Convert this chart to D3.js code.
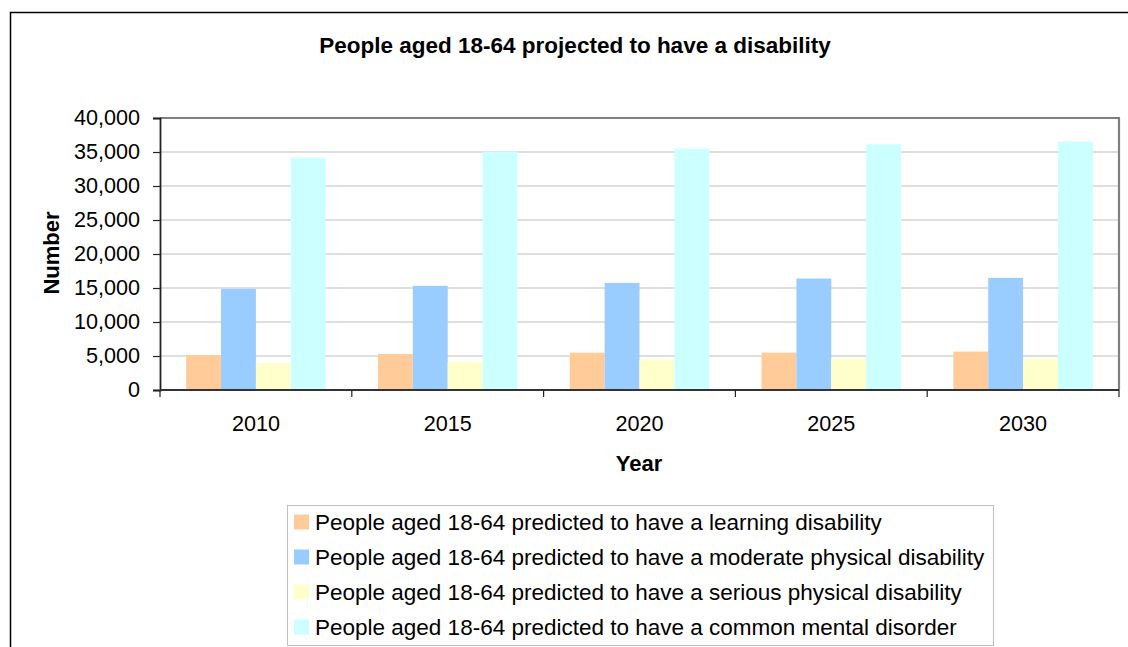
<!DOCTYPE html>
<html>
<head>
<meta charset="utf-8">
<script src="https://cdn.jsdelivr.net/npm/d3@7"></script>
<style>
  html, body { margin: 0; padding: 0; background: #fff; }
  svg { display: block; font-family: Arial, "Liberation Sans", sans-serif; }
</style>
</head>
<body>
<svg id="chart" width="1128" height="647"></svg>
<script>
// Projected numbers of people aged 18-64 with a disability, by year
const years = ["2010", "2015", "2020", "2025", "2030"];
const seriesNames = [
  "People aged 18-64 predicted to have a learning disability",
  "People aged 18-64 predicted to have a moderate physical disability",
  "People aged 18-64 predicted to have a serious physical disability",
  "People aged 18-64 predicted to have a common mental disorder"
];
const learning = [5150, 5300, 5480, 5490, 5650];
const moderatePhysical = [14870, 15320, 15750, 16390, 16490];
const seriousPhysical = [3970, 4120, 4460, 4610, 4610];
const commonMental = [34170, 35050, 35490, 36130, 36520];
const seriesColors = ["#ffcc99", "#99ccff", "#ffffcc", "#ccffff"];
const yTicks = [0, 5000, 10000, 15000, 20000, 25000, 30000, 35000, 40000];

const seriesValues = [learning, moderatePhysical, seriousPhysical, commonMental];

const svg = d3.select("#chart");
const plot = { left: 160, right: 1119, top: 118, bottom: 390 };

// Outer chart frame (open to the right and bottom)
svg.append("path")
  .attr("d", "M10.5,647 L10.5,12.5 L1128,12.5")
  .attr("fill", "none").attr("stroke", "#000").attr("stroke-width", 1.5);

// Title
svg.append("text")
  .attr("x", 575).attr("y", 45)
  .attr("text-anchor", "middle").attr("dominant-baseline", "central")
  .attr("font-size", 22.5).attr("font-weight", "bold")
  .text("People aged 18-64 projected to have a disability");

// Category bands, and the four bars inside each band (gap of 1.5 bar widths)
const x0 = d3.scaleBand().domain(years).range([plot.left, plot.right]).paddingInner(0).paddingOuter(0);
const x1 = d3.scaleBand().domain(d3.range(seriesNames.length))
  .range([0, x0.bandwidth()]).paddingInner(0).paddingOuter(0.75);
const y = d3.scaleLinear().domain([0, 40000]).range([plot.bottom, plot.top]);

// Gridlines
svg.append("g").selectAll("line")
  .data(yTicks.filter(t => t > 0 && t < 40000))
  .join("line")
  .attr("x1", plot.left).attr("x2", plot.right)
  .attr("y1", d => y(d)).attr("y2", d => y(d))
  .attr("stroke", "#c0c0c0").attr("stroke-width", 1.2);

// Plot area border (top and right)
svg.append("path")
  .attr("d", `M${plot.left},${y(40000)} L${plot.right},${y(40000)} L${plot.right},${plot.bottom}`)
  .attr("fill", "none").attr("stroke", "#808080").attr("stroke-width", 2.2);

// Bars
const groups = svg.append("g").selectAll("g")
  .data(years)
  .join("g")
  .attr("transform", d => `translate(${x0(d)},0)`);

groups.selectAll("rect")
  .data((yr, i) => seriesValues.map((vals, s) => ({ s, v: vals[i] })))
  .join("rect")
  .attr("x", d => x1(d.s))
  .attr("width", x1.bandwidth())
  .attr("y", d => y(d.v))
  .attr("height", d => y(0) - y(d.v))
  .attr("fill", d => seriesColors[d.s]);

// Y axis
const yAxis = d3.axisLeft(y).tickValues(yTicks).tickSize(7).tickPadding(13)
  .tickFormat(d3.format(","));
const gy = svg.append("g").attr("transform", `translate(${plot.left},0)`).call(yAxis);
gy.select(".domain").attr("stroke", "#222").attr("stroke-width", 1.8);
gy.selectAll(".tick line").attr("stroke", "#222").attr("stroke-width", 1.2);
gy.selectAll(".tick text").attr("font-size", 21.6).attr("fill", "#000")
  .attr("font-family", "Arial, 'Liberation Sans', sans-serif");

// X axis: ticks at category boundaries, labels centred on categories
const gx = svg.append("g").attr("transform", `translate(0,${plot.bottom})`);
gx.append("line")
  .attr("x1", plot.left).attr("x2", plot.right)
  .attr("stroke", "#333").attr("stroke-width", 2.2);
const boundaries = years.map(d => x0(d)).concat([x0(years[years.length - 1]) + x0.bandwidth()]);
gx.selectAll("line.tick").data(boundaries).join("line")
  .attr("class", "tick")
  .attr("x1", d => d).attr("x2", d => d)
  .attr("y1", 0).attr("y2", 7)
  .attr("stroke", "#222").attr("stroke-width", 1.2);
gx.selectAll("text").data(years).join("text")
  .attr("x", d => x0(d) + x0.bandwidth() / 2)
  .attr("y", 33)
  .attr("text-anchor", "middle").attr("dominant-baseline", "central")
  .attr("font-size", 21.6)
  .text(d => d);

// Axis titles
svg.append("text")
  .attr("x", 639).attr("y", 463)
  .attr("text-anchor", "middle").attr("dominant-baseline", "central")
  .attr("font-size", 22).attr("font-weight", "bold")
  .text("Year");
svg.append("text")
  .attr("transform", "translate(51,253) rotate(-90)")
  .attr("text-anchor", "middle").attr("dominant-baseline", "central")
  .attr("font-size", 22).attr("font-weight", "bold")
  .text("Number");

// Legend
const legend = svg.append("g");
legend.append("rect")
  .attr("x", 287.5).attr("y", 505.5).attr("width", 706).attr("height", 140)
  .attr("fill", "#fff").attr("stroke", "#c0c0c0").attr("stroke-width", 1);
const items = legend.selectAll("g.item").data(seriesNames).join("g")
  .attr("class", "item")
  .attr("transform", (d, i) => `translate(294,${522 + i * 35})`);
items.append("rect")
  .attr("x", 0).attr("y", -7.5).attr("width", 15).attr("height", 15)
  .attr("fill", (d, i) => seriesColors[i]);
items.append("text")
  .attr("x", 21).attr("y", 0)
  .attr("dominant-baseline", "central")
  .attr("font-size", 22.5)
  .text(d => d);
</script>
</body>
</html>
